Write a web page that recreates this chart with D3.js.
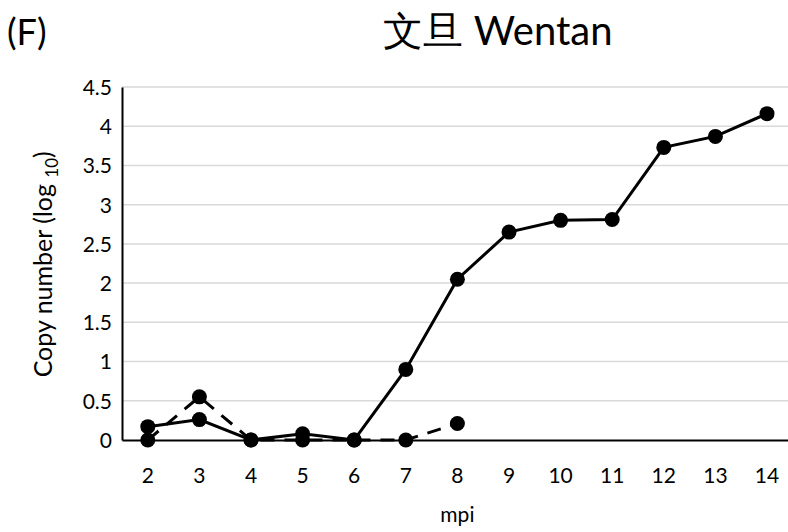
<!DOCTYPE html>
<meta charset="utf-8">
<html>
<script src="https://d3js.org/d3.v7.min.js"></script>
<style>
  body { margin: 0; background: #fff; }
  text { font-family: Lato, "Noto Sans", sans-serif; fill: #000; }
</style>
<div id="chart"></div>
<script>

// data
var months = [2, 3, 4, 5, 6, 7, 8, 9, 10, 11, 12, 13, 14];
var solidValues = [0.17, 0.26, 0, 0.08, 0, 0.9, 2.05, 2.65, 2.8, 2.81, 3.73, 3.87, 4.16];
var dashedValues = [0, 0.55, 0, 0, 0, 0, 0.21];
var yTicks = [0, 0.5, 1, 1.5, 2, 2.5, 3, 3.5, 4, 4.5];

var width = 788, height = 532;
var margin = {top: 87, left: 122, bottom: 92};

var svg = d3.select("#chart").append("svg")
    .attr("width", width)
    .attr("height", height);

var x = d3.scaleBand()
    .domain(months)
    .range([margin.left, margin.left + 13 * 51.6]);

var y = d3.scaleLinear()
    .domain([0, 4.5])
    .range([height - margin.bottom, margin.top]);

function cx(m) { return x(m) + x.bandwidth() / 2; }

// gridlines
svg.append("g")
  .selectAll("line")
  .data(yTicks.slice(1))
  .enter().append("line")
    .attr("x1", margin.left)
    .attr("x2", width)
    .attr("y1", function(d) { return y(d); })
    .attr("y2", function(d) { return y(d); })
    .attr("stroke", "#d9d9d9")
    .attr("stroke-width", 1.5);

// axes
var yAxis = svg.append("g")
    .attr("transform", "translate(" + margin.left + ",0)")
    .call(d3.axisLeft(y).tickValues(yTicks).tickSize(0).tickPadding(10).tickFormat(d3.format("")));
yAxis.select(".domain").attr("stroke", "#000").attr("stroke-width", 2);
yAxis.selectAll("text").style("font-size", "21px").attr("dy", "0.35em");

var xAxis = svg.append("g")
    .attr("transform", "translate(0," + y(0) + ")")
    .call(d3.axisBottom(x).tickSize(0).tickPadding(28));
xAxis.select(".domain").attr("stroke", "#000").attr("stroke-width", 2);
xAxis.selectAll("text").style("font-size", "21px");

// lines
var line = d3.line()
    .x(function(d, i) { return cx(months[i]); })
    .y(function(d) { return y(d); });

svg.append("path")
    .datum(solidValues)
    .attr("d", line)
    .attr("fill", "none")
    .attr("stroke", "#000")
    .attr("stroke-width", 3);

svg.append("path")
    .datum(dashedValues)
    .attr("d", line)
    .attr("fill", "none")
    .attr("stroke", "#000")
    .attr("stroke-width", 3)
    .attr("stroke-dasharray", "14,10");

svg.append("g").selectAll("circle")
  .data(solidValues)
  .enter().append("circle")
    .attr("cx", function(d, i) { return cx(months[i]); })
    .attr("cy", function(d) { return y(d); })
    .attr("r", 7.5);

svg.append("g").selectAll("circle")
  .data(dashedValues)
  .enter().append("circle")
    .attr("cx", function(d, i) { return cx(months[i]); })
    .attr("cy", function(d) { return y(d); })
    .attr("r", 7.5);

// titles
svg.append("text")
    .attr("x", 7)
    .attr("y", 45)
    .style("font-size", "36px")
    .text("(F)");

svg.append("text")
    .attr("x", 498)
    .attr("y", 45)
    .attr("text-anchor", "middle")
    .style("font-size", "40px")
    .text("文旦 Wentan");

svg.append("text")
    .attr("x", cx(8))
    .attr("y", 522)
    .attr("text-anchor", "middle")
    .style("font-size", "21px")
    .text("mpi");

var yl = svg.append("text")
    .attr("transform", "translate(52," + y(2.24) + ") rotate(-90)")
    .attr("text-anchor", "middle")
    .style("font-size", "25px");
yl.append("tspan").text("Copy number (log ");
yl.append("tspan").attr("dy", 6).style("font-size", "17px").text("10");
yl.append("tspan").attr("dy", -6).text(")");

</script>
</html>
